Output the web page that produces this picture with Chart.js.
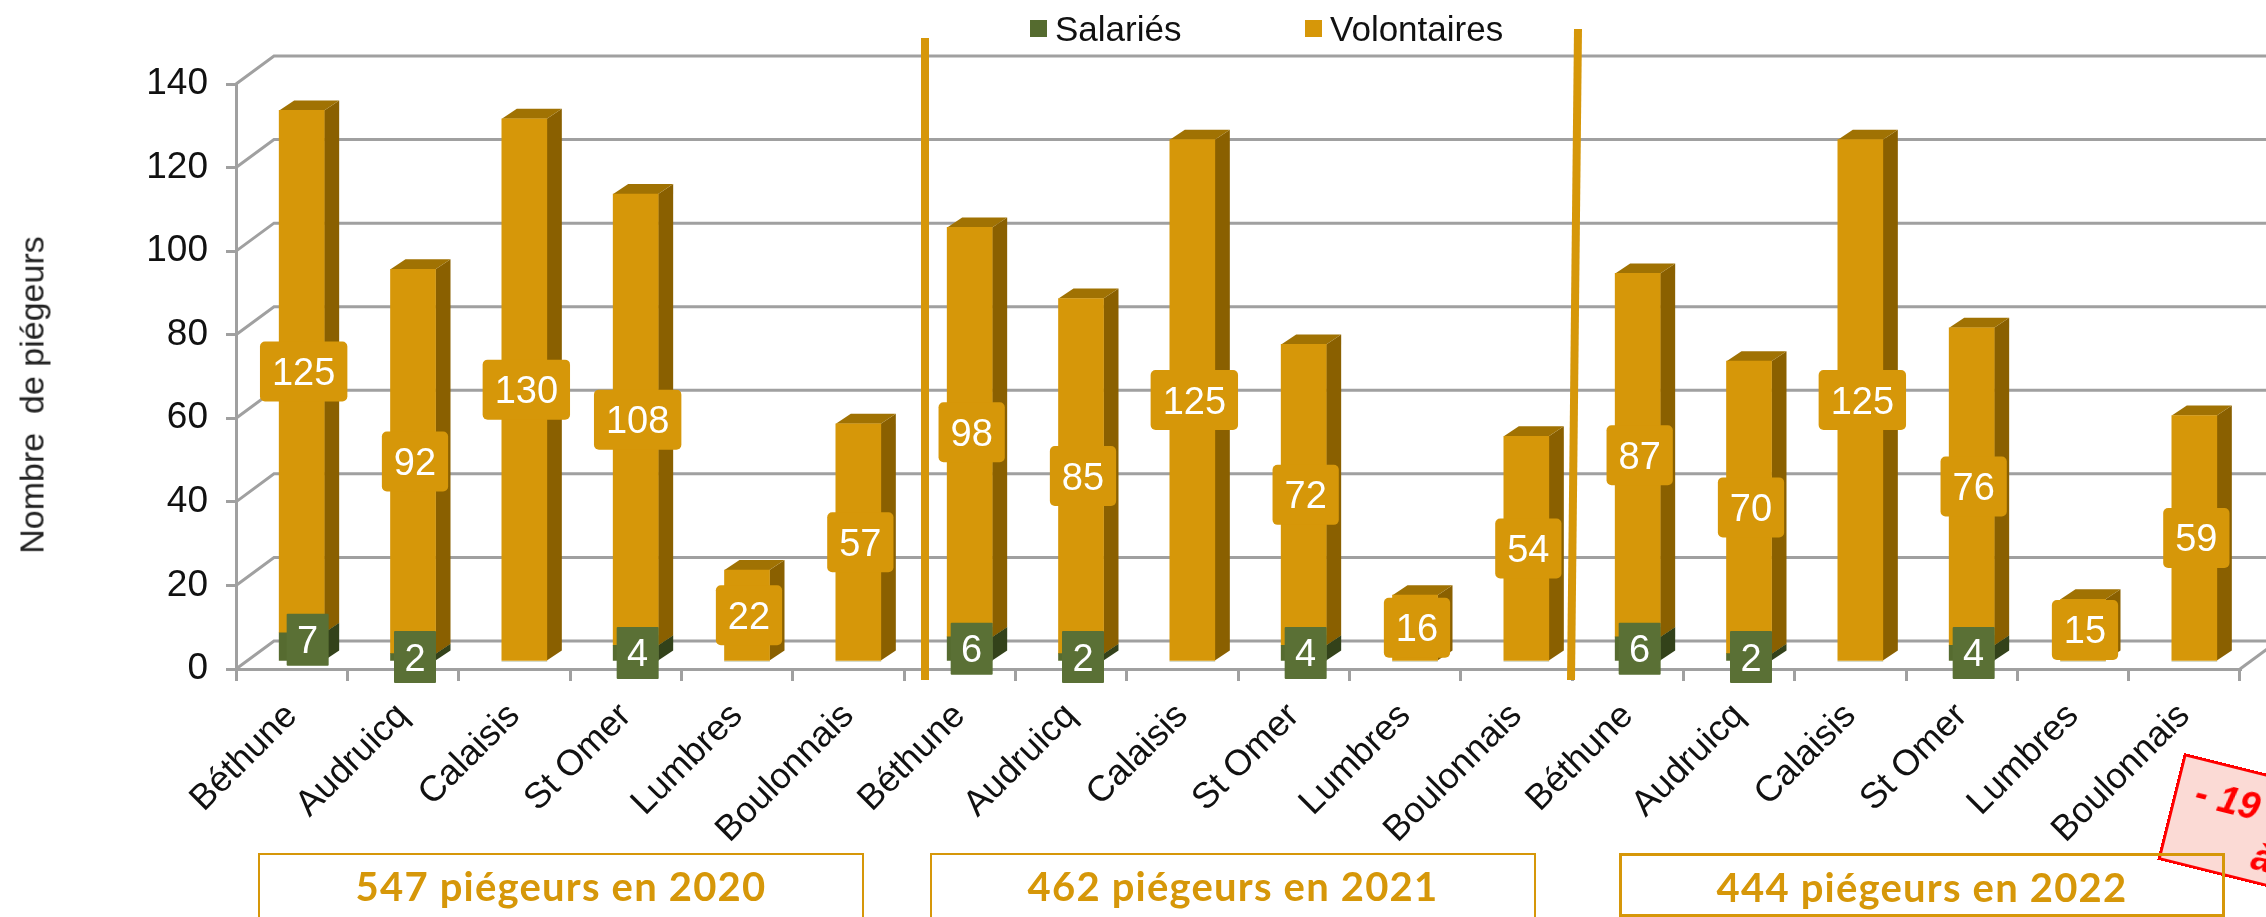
<!DOCTYPE html>
<html>
<head>
<meta charset="utf-8">
<script src="https://cdn.jsdelivr.net/npm/chart.js@4"></script>
<style>
  html, body { margin: 0; padding: 0; background: #fff; overflow: hidden; }
  #wrap { position: relative; width: 2266px; height: 917px; overflow: hidden; }
  #wrap canvas { position: absolute; left: 0; top: 0; }
  .yearBox { position: absolute; top: 853px; height: 70px; box-sizing: border-box; border: 2px solid #D69709;
    color: #D69709; font: 700 40px Lato, sans-serif; text-align: center; line-height: 62px; letter-spacing: 1.2px; }
  .legendItem { position: absolute; top: 9px; font: 35px "Liberation Sans", Arial, sans-serif; color: #111; line-height: 40px; white-space: nowrap; }
  .legendItem i { position: absolute; left: -25px; top: 11px; width: 17px; height: 17px; }
  #axisTitle { position: absolute; left: 32px; top: 395px; transform: translate(-50%, -50%) rotate(-90deg);
    font: 34px "Liberation Sans", Arial, sans-serif; color: #222; white-space: pre; }
  #redNote { position: absolute; left: 2184px; top: 753px; width: 300px; height: 110px; box-sizing: border-box;
    transform-origin: 0 0; transform: rotate(14deg); background: #FBDAD5; border: 3px solid #F00; color: #F00;
    font: italic bold 38px "Liberation Sans", Arial, sans-serif; line-height: 48px; }
  #redNote span { display: block; white-space: pre; }
</style>
</head>
<body>
<div id="wrap">
  <canvas id="trapChart" width="2266" height="917"></canvas>
  <div id="redNote"><span style="margin:8px 0 0 18px">- 19 %</span><span style="margin-left:88px">à 2021</span></div>
  <div id="axisTitle">Nombre  de piégeurs</div>
  <div class="yearBox" style="left:258px;width:606px">547 piégeurs en 2020</div>
  <div class="yearBox" style="left:930px;width:606px">462 piégeurs en 2021</div>
  <div class="yearBox" style="left:1619px;width:606px;height:64px;border-width:3px">444 piégeurs en 2022</div>
  <div class="legendItem" style="left:1055px"><i style="background:#556B2F"></i>Salariés</div>
  <div class="legendItem" style="left:1330px"><i style="background:#D69709"></i>Volontaires</div>
</div>
<script>
const sites = ["Béthune", "Audruicq", "Calaisis", "St Omer", "Lumbres", "Boulonnais"];
const categories = [...sites, ...sites, ...sites];
const salaries = [7, 2, 0, 4, 0, 0, 6, 2, 0, 4, 0, 0, 6, 2, 0, 4, 0, 0];
const volontaires = [125, 92, 130, 108, 22, 57, 98, 85, 125, 72, 16, 54, 87, 70, 125, 76, 15, 59];
const yTicks = [0, 20, 40, 60, 80, 100, 120, 140];

// fake 3d depth
const wallX = 38, wallY = -28;
const barShiftX = 10, barShiftY = -7;
const depthX = 15, depthY = -10;
const gridColor = "#A0A0A0";

const faces = {
  Salariés: { side: "#33421A", top: "#43561F", box: "#5A7035" },
  Volontaires: { side: "#8A6000", top: "#A07203", box: "#D69709" }
};

const depthPlugin = {
  id: "depth",
  beforeDatasetsDraw(chart) {
    const ctx = chart.ctx, y = chart.scales.y, area = chart.chartArea;
    // back wall and left wall lines
    ctx.save();
    ctx.strokeStyle = gridColor;
    ctx.lineWidth = 3;
    yTicks.forEach(v => {
      const py = y.getPixelForValue(v);
      ctx.beginPath();
      ctx.moveTo(area.left, py);
      ctx.lineTo(area.left + wallX, py + wallY);
      ctx.lineTo(area.right + wallX, py + wallY);
      ctx.stroke();
    });
    ctx.beginPath();
    ctx.moveTo(area.right, y.getPixelForValue(0));
    ctx.lineTo(area.right + wallX, y.getPixelForValue(0) + wallY);
    ctx.stroke();
    ctx.restore();

    // everything in the datasets is pushed to mid depth, restored after
    ctx.save();
    ctx.translate(barShiftX, barShiftY);
    chart.data.datasets.forEach((ds, i) => {
      const meta = chart.getDatasetMeta(i);
      meta.data.forEach((bar, j) => {
        if (!ds.data[j]) return;
        const p = bar.getProps(["x", "y", "base", "width"], true);
        const right = p.x + p.width / 2, left = p.x - p.width / 2;
        ctx.fillStyle = faces[ds.label].side;
        ctx.beginPath();
        ctx.moveTo(right, p.y);
        ctx.lineTo(right + depthX, p.y + depthY);
        ctx.lineTo(right + depthX, p.base + depthY);
        ctx.lineTo(right, p.base);
        ctx.fill();
        ctx.fillStyle = faces[ds.label].top;
        ctx.beginPath();
        ctx.moveTo(left, p.y);
        ctx.lineTo(left + depthX, p.y + depthY);
        ctx.lineTo(right + depthX, p.y + depthY);
        ctx.lineTo(right, p.y);
        ctx.fill();
      });
    });
  },
  afterDatasetsDraw(chart) {
    chart.ctx.restore();
  },
  afterDraw(chart) {
    const ctx = chart.ctx, x = chart.scales.x;
    // group separators
    ctx.save();
    ctx.strokeStyle = "#D69709";
    ctx.lineWidth = 8;
    [[5.5, 21, 21, 38], [11.5, 6, -1, 29]].forEach(([at, dTop, dBottom, top]) => {
      const px = x.getPixelForValue(at);
      ctx.beginPath();
      ctx.moveTo(px + dTop, top);
      ctx.lineTo(px + dBottom, 680);
      ctx.stroke();
    });
    ctx.restore();

    // value boxes
    ctx.save();
    ctx.font = '38px "Liberation Sans", Arial, sans-serif';
    ctx.textAlign = "center";
    ctx.textBaseline = "middle";
    chart.data.datasets.forEach((ds, i) => {
      const meta = chart.getDatasetMeta(i);
      meta.data.forEach((bar, j) => {
        const val = ds.data[j];
        if (!val) return;
        const p = bar.getProps(["x", "y", "base"], true);
        const isStaff = ds.label === "Salariés";
        // the 7 sits a little off in the original
        const nudged = isStaff && j === 0;
        const cx = p.x + barShiftX + (nudged ? 6 : 2);
        const cy = (p.y + p.base) / 2 + barShiftY - (nudged ? 7 : 0);
        const w = isStaff ? 42 : ctx.measureText(val).width + 24;
        const h = isStaff ? 52 : 60;
        ctx.fillStyle = faces[ds.label].box;
        ctx.beginPath();
        ctx.roundRect(cx - w / 2, cy - h / 2, w, h, isStaff ? 1 : 5);
        ctx.fill();
        ctx.fillStyle = "#fff";
        ctx.fillText(val, cx, cy + 3);
      });
    });
    ctx.restore();
  }
};

new Chart(document.getElementById("trapChart"), {
  type: "bar",
  plugins: [depthPlugin],
  data: {
    labels: categories,
    datasets: [
      { label: "Salariés", data: salaries, backgroundColor: "#566B30", barThickness: 45 },
      { label: "Volontaires", data: volontaires, backgroundColor: "#D69709", barThickness: 45 }
    ]
  },
  options: {
    responsive: false,
    animation: false,
    layout: { padding: { top: 84, right: 26, left: 0, bottom: 0 } },
    plugins: { legend: { display: false }, tooltip: { enabled: false } },
    scales: {
      x: {
        stacked: true,
        afterFit: s => { s.height = 248; },
        border: { color: gridColor, width: 3 },
        grid: { display: true, drawOnChartArea: false, drawTicks: true, tickLength: 12, color: gridColor, lineWidth: 3 },
        ticks: {
          autoSkip: false, minRotation: 45, maxRotation: 45, padding: 14, color: "#111",
          font: { family: '"Liberation Sans", Arial, sans-serif', size: 36 }
        }
      },
      y: {
        stacked: true,
        min: 0,
        max: 140,
        afterFit: s => { s.width = 236; },
        afterBuildTicks: s => { s.ticks = yTicks.map(value => ({ value })); },
        border: { color: gridColor, width: 3 },
        grid: { display: true, drawOnChartArea: false, tickLength: 10, color: gridColor, lineWidth: 3 },
        ticks: {
          padding: 18, color: "#111",
          font: { family: '"Liberation Sans", Arial, sans-serif', size: 37 }
        }
      }
    }
  }
});
</script>
</body>
</html>
